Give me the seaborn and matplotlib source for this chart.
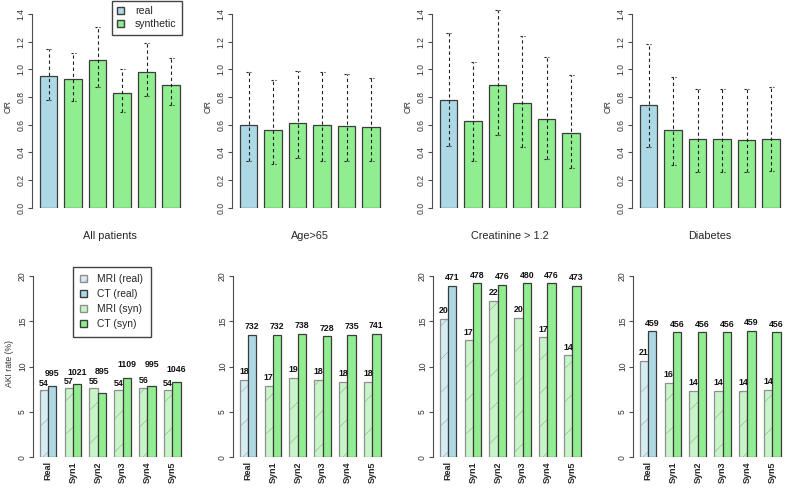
import numpy as np
import pandas as pd
import matplotlib
matplotlib.use("Agg")
import matplotlib.pyplot as plt
from matplotlib.patches import Patch
import seaborn as sns


datasets = ["Real", "Syn1", "Syn2", "Syn3", "Syn4", "Syn5"]
subgroups = ["All patients", "Age>65", "Creatinine > 1.2", "Diabetes"]

# odds ratios with confidence limits (top row)
or_all = [0.95, 0.93, 1.07, 0.83, 0.98, 0.89]
or_all_lo = [0.78, 0.77, 0.875, 0.69, 0.805, 0.74]
or_all_hi = [1.15, 1.12, 1.305, 1.005, 1.19, 1.08]

or_age = [0.60, 0.56, 0.615, 0.60, 0.59, 0.58]
or_age_lo = [0.34, 0.315, 0.36, 0.34, 0.335, 0.335]
or_age_hi = [0.98, 0.92, 0.99, 0.98, 0.965, 0.94]

or_cr = [0.775, 0.625, 0.89, 0.76, 0.64, 0.54]
or_cr_lo = [0.445, 0.34, 0.525, 0.44, 0.355, 0.285]
or_cr_hi = [1.265, 1.055, 1.43, 1.24, 1.09, 0.96]

or_dm = [0.74, 0.56, 0.495, 0.495, 0.49, 0.50]
or_dm_lo = [0.44, 0.31, 0.255, 0.255, 0.255, 0.265]
or_dm_hi = [1.18, 0.945, 0.86, 0.86, 0.855, 0.87]

# AKI rates (%) and patient counts (bottom row)
aki_mri_all = [7.45, 7.6, 7.6, 7.4, 7.7, 7.4]
aki_ct_all = [7.85, 8.05, 7.05, 8.75, 7.85, 8.3]
n_mri_all = [54, 57, 55, 54, 56, 54]
n_ct_all = [995, 1021, 895, 1109, 995, 1046]

aki_mri_age = [8.55, 7.9, 8.8, 8.55, 8.35, 8.35]
aki_ct_age = [13.5, 13.5, 13.6, 13.35, 13.5, 13.6]
n_mri_age = [18, 17, 19, 18, 18, 18]
n_ct_age = [732, 732, 738, 728, 735, 741]

aki_mri_cr = [15.3, 12.9, 17.25, 15.35, 13.25, 11.25]
aki_ct_cr = [18.9, 19.2, 19.05, 19.2, 19.2, 18.9]
n_mri_cr = [20, 17, 22, 20, 17, 14]
n_ct_cr = [471, 478, 476, 480, 476, 473]

aki_mri_dm = [10.65, 8.2, 7.35, 7.35, 7.35, 7.45]
aki_ct_dm = [13.9, 13.8, 13.8, 13.8, 13.95, 13.8]
n_mri_dm = [21, 16, 14, 14, 14, 14]
n_ct_dm = [459, 456, 456, 456, 459, 456]

# label lift above bar top (first panel labels were nudged by hand)
lift_mri = [[0.72] * 6, [0.9] * 6, [0.9] * 6, [0.9] * 6]
lift_ct = [[1.4, 1.35, 2.45, 1.5, 2.4, 1.35], [0.9] * 6, [0.9] * 6, [0.9] * 6]


sns.set_style("white")
plt.rcParams["font.family"] = ["Liberation Sans", "DejaVu Sans"]
plt.rcParams["hatch.linewidth"] = 0.3

BLUE = "#add8e6"
GREEN = "#90ee90"
BLUE_LIGHT = "#d6ecf3"
GREEN_LIGHT = "#c8f5c8"
EDGE = "#3c3c3c"
EDGE_LIGHT = "#8f8f8f"
AXIS = "#4d4d4d"
TICK_TXT = "#333333"

W, H = 800, 499
fig = plt.figure(figsize=(8, 4.99), dpi=100)


def px_axes(left, top, width, height):
    return fig.add_axes([left / W, 1 - (top + height) / H, width / W, height / H])


def style_axis(ax, ticks, fmt):
    for s in ["top", "right", "bottom"]:
        ax.spines[s].set_visible(False)
    ax.spines["left"].set_bounds(ticks[0], ticks[-1])
    ax.spines["left"].set_color(AXIS)
    ax.spines["left"].set_linewidth(0.8)
    ax.set_yticks(ticks)
    ax.set_yticklabels([fmt.format(t) for t in ticks])
    ax.tick_params(axis="y", left=True, direction="out", length=3, width=0.8,
                   color=AXIS, labelsize=6.2, labelcolor=TICK_TXT, pad=1.5,
                   labelrotation=90)
    for lab in ax.get_yticklabels():
        lab.set_va("center")


# ---- top row: odds ratios ----
or_est = [or_all, or_age, or_cr, or_dm]
or_lo = [or_all_lo, or_age_lo, or_cr_lo, or_dm_lo]
or_hi = [or_all_hi, or_age_hi, or_cr_hi, or_dm_hi]

for i, name in enumerate(subgroups):
    ax = px_axes(i * 200 + 31.7, 6.25, 156.3, 201.45)

    sns.barplot(
        x=datasets,
        y=or_est[i],
        hue=datasets,
        palette=[BLUE] + [GREEN] * 5,
        legend=False,
        width=0.72,
        saturation=1,
        edgecolor=EDGE,
        linewidth=0.9,
        ax=ax
    )

    xs = np.array(sorted(p.get_x() + p.get_width() / 2 for p in ax.patches))
    dash = (0, (3, 2.5))
    ax.vlines(xs, or_lo[i], or_hi[i], colors="#222222", linestyles=dash,
              linewidth=0.8, zorder=5)
    ax.hlines(or_lo[i], xs - 0.1, xs + 0.1, colors="#222222",
              linestyles=(0, (2, 1.5)), linewidth=0.8, zorder=5)
    ax.hlines(or_hi[i], xs - 0.1, xs + 0.1, colors="#222222",
              linestyles=(0, (2, 1.5)), linewidth=0.8, zorder=5)

    ax.set_xlim(-0.69, 5.69)
    ax.set_ylim(0, 1.456)
    style_axis(ax, [0.0, 0.2, 0.4, 0.6, 0.8, 1.0, 1.2, 1.4], "{:.1f}")
    ax.set_xticks([])
    ax.set_xlabel(name, fontsize=7.8, labelpad=16.5)
    ax.set_ylabel("OR", fontsize=6.2, color=TICK_TXT, labelpad=3)

top_handles = [
    Patch(facecolor=BLUE, edgecolor=EDGE, label="real"),
    Patch(facecolor=GREEN, edgecolor=EDGE, label="synthetic"),
]
fig.legend(
    handles=top_handles,
    loc="upper left",
    bbox_to_anchor=(111.7 / W, 1 - 1 / H),
    fontsize=7.6,
    frameon=True,
    fancybox=False,
    edgecolor="#444444",
    framealpha=1,
    handlelength=0.7,
    handleheight=0.7,
    handletextpad=1.0,
    labelspacing=0.3,
    borderpad=0.5,
    borderaxespad=0
)


# ---- bottom row: AKI rates ----
aki_mri = [aki_mri_all, aki_mri_age, aki_mri_cr, aki_mri_dm]
aki_ct = [aki_ct_all, aki_ct_age, aki_ct_cr, aki_ct_dm]
n_mri = [n_mri_all, n_mri_age, n_mri_cr, n_mri_dm]
n_ct = [n_ct_all, n_ct_age, n_ct_cr, n_ct_dm]

for i in range(4):
    ax = px_axes(i * 200 + 33.3, 268.75, 153.8, 188.55)

    df = pd.DataFrame({
        "dataset": datasets * 2,
        "modality": ["MRI"] * 6 + ["CT"] * 6,
        "rate": aki_mri[i] + aki_ct[i],
    })

    sns.barplot(
        data=df,
        x="dataset",
        y="rate",
        hue="modality",
        hue_order=["MRI", "CT"],
        palette={"MRI": GREEN_LIGHT, "CT": GREEN},
        width=0.67,
        gap=0,
        saturation=1,
        edgecolor=EDGE,
        linewidth=0.9,
        legend=False,
        ax=ax
    )

    mri_bars, ct_bars = ax.containers[0], ax.containers[1]
    for b in mri_bars:
        b.set_edgecolor(EDGE_LIGHT)
        b.set_hatch("/")
    mri_bars[0].set_facecolor(BLUE_LIGHT)
    ct_bars[0].set_facecolor(BLUE)

    for bars, counts, lifts in [(mri_bars, n_mri[i], lift_mri[i]),
                                (ct_bars, n_ct[i], lift_ct[i])]:
        for b, n, lift in zip(bars, counts, lifts):
            ax.text(b.get_x() + b.get_width() / 2, b.get_height() + lift,
                    str(n), ha="center", va="center", fontsize=6.3,
                    fontweight="bold", color="#111111")

    ax.set_xlim(-0.6, 5.6)
    ax.set_ylim(0, 20.8)
    style_axis(ax, [0, 5, 10, 15, 20], "{:d}")
    ax.set_xticks(range(6))
    ax.set_xticklabels(datasets, rotation=90, fontsize=6.5, fontweight="bold")
    ax.tick_params(axis="x", length=0, pad=3)
    ax.set_xlabel("")
    if i == 0:
        ax.set_ylabel("AKI rate (%)", fontsize=6.2, color=TICK_TXT, labelpad=3)
    else:
        ax.set_ylabel("")

bottom_handles = [
    Patch(facecolor=BLUE_LIGHT, edgecolor=EDGE_LIGHT, hatch="/", label="MRI (real)"),
    Patch(facecolor=BLUE, edgecolor=EDGE, label="CT (real)"),
    Patch(facecolor=GREEN_LIGHT, edgecolor=EDGE_LIGHT, hatch="/", label="MRI (syn)"),
    Patch(facecolor=GREEN, edgecolor=EDGE, label="CT (syn)"),
]
fig.legend(
    handles=bottom_handles,
    loc="upper left",
    bbox_to_anchor=(72.7 / W, 1 - 266.7 / H),
    fontsize=7.4,
    frameon=True,
    fancybox=False,
    edgecolor="#444444",
    framealpha=1,
    handlelength=0.7,
    handleheight=0.7,
    handletextpad=1.0,
    labelspacing=0.5,
    borderpad=0.7,
    borderaxespad=0
)

fig.savefig("out.png", dpi=100)
plt.close(fig)
